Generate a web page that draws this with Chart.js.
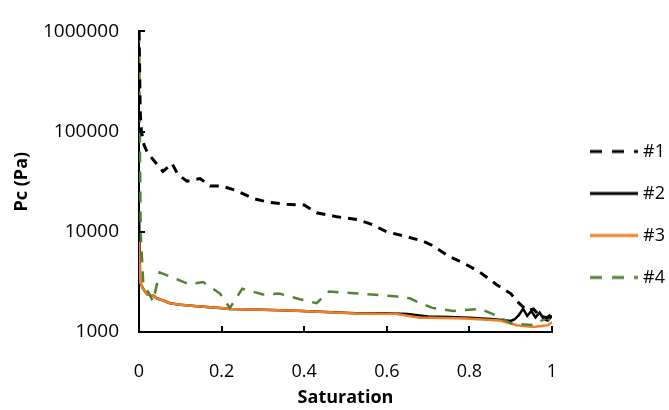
<!DOCTYPE html>
<html>
<head>
<meta charset="utf-8">
<script src="https://cdn.jsdelivr.net/npm/chart.js@4"></script>
<style>
  html, body { margin: 0; padding: 0; background: #fff; }
  #wrap { width: 669px; height: 410px; }
</style>
</head>
<body>
<div id="wrap"><canvas id="pcChart" width="669" height="410"></canvas></div>
<script>
// Series data (saturation vs capillary pressure)
const labels = ['#1', '#2', '#3', '#4'];

const sat1 = [0, 0.001, 0.002, 0.003, 0.005, 0.008, 0.012, 0.02, 0.034, 0.058, 0.08, 0.094, 0.116, 0.148, 0.172, 0.2, 0.237, 0.276, 0.317, 0.358, 0.4, 0.43, 0.48, 0.53, 0.56, 0.6, 0.65, 0.69, 0.71, 0.75, 0.785, 0.826, 0.867, 0.9, 0.92, 0.94, 0.955, 0.97, 0.988, 1.0];
const pc1 = [1000000, 600000, 300000, 160000, 110000, 90000, 74000, 62000, 52600, 40000, 48000, 37400, 32000, 34000, 28600, 28600, 25700, 21500, 19600, 18800, 18500, 15500, 14100, 13200, 12000, 10000, 8900, 8000, 7300, 5700, 4900, 3940, 2950, 2420, 1940, 1630, 1700, 1450, 1390, 1520];

// #2 sits under #3 for most of the range, only showing near the end
const sat2 = [0, 0.003, 0.01, 0.02, 0.035, 0.043, 0.06, 0.075, 0.1, 0.14, 0.196, 0.22, 0.3, 0.38, 0.54, 0.6, 0.65, 0.7, 0.75, 0.8, 0.85, 0.88, 0.9, 0.91, 0.92, 0.93, 0.94, 0.95, 0.96, 0.97, 0.98, 0.99, 1.0];
const pc2 = [15000, 3100, 2700, 2370, 2300, 2170, 2050, 1940, 1870, 1810, 1740, 1700, 1670, 1630, 1530, 1540, 1510, 1430, 1410, 1390, 1350, 1320, 1290, 1340, 1480, 1700, 1450, 1620, 1400, 1560, 1350, 1300, 1450];

const sat3 = [0, 0.003, 0.01, 0.02, 0.035, 0.043, 0.06, 0.075, 0.1, 0.14, 0.196, 0.22, 0.3, 0.38, 0.54, 0.62, 0.68, 0.71, 0.79, 0.874, 0.915, 0.955, 0.99, 1.0];
const pc3 = [8000, 3100, 2700, 2370, 2300, 2170, 2050, 1940, 1870, 1810, 1740, 1700, 1670, 1630, 1520, 1520, 1390, 1390, 1360, 1300, 1170, 1120, 1170, 1250];

const sat4 = [0, 0.001, 0.002, 0.004, 0.01, 0.02, 0.034, 0.05, 0.08, 0.12, 0.155, 0.196, 0.22, 0.25, 0.3, 0.34, 0.39, 0.43, 0.46, 0.53, 0.625, 0.656, 0.67, 0.71, 0.76, 0.826, 0.867, 0.9, 0.955, 0.988, 1.0];
const pc4 = [1000000, 500000, 100000, 10000, 3200, 2600, 2030, 3930, 3520, 3000, 3150, 2420, 1740, 2700, 2370, 2420, 2120, 1940, 2530, 2420, 2260, 2170, 2030, 1740, 1620, 1700, 1450, 1220, 1170, 1390, 1250];

const xTicks = [0, 0.2, 0.4, 0.6, 0.8, 1];
const yTicks = [1000, 10000, 100000, 1000000];

function toPoints(xs, ys) {
  return xs.map((x, i) => ({ x: x, y: ys[i] }));
}

// small canvas used as the legend symbol so dashes show up
function legendLine(color, width, dash) {
  const c = document.createElement('canvas');
  c.width = 66;
  c.height = 6;
  const g = c.getContext('2d');
  g.strokeStyle = color;
  g.lineWidth = width;
  g.setLineDash(dash);
  g.beginPath();
  g.moveTo(18, 3);
  g.lineTo(66, 3);
  g.stroke();
  return c;
}

// Excel-style short tick marks pointing into the plot
const innerTicks = {
  id: 'innerTicks',
  afterDatasetsDraw(chart) {
    const ctx = chart.ctx;
    const xs = chart.scales.x, ys = chart.scales.y;
    ctx.save();
    ctx.strokeStyle = '#000';
    ctx.lineWidth = 2;
    ctx.beginPath();
    xTicks.forEach(v => {
      const px = Math.round(xs.getPixelForValue(v));
      ctx.moveTo(px, ys.bottom);
      ctx.lineTo(px, ys.bottom - 6);
    });
    yTicks.forEach(v => {
      const py = Math.round(ys.getPixelForValue(v));
      ctx.moveTo(xs.left, py);
      ctx.lineTo(xs.left + 6, py);
    });
    ctx.stroke();
    ctx.restore();
  }
};

const font = "'Open Sans', 'Liberation Sans', sans-serif";

new Chart(document.getElementById('pcChart'), {
  type: 'line',
  data: {
    datasets: [
      { label: labels[0], data: toPoints(sat1, pc1), borderColor: '#000000', backgroundColor: '#000000', borderWidth: 3, borderDash: [9, 7], order: 0 },
      { label: labels[1], data: toPoints(sat2, pc2), borderColor: '#000000', backgroundColor: '#000000', borderWidth: 2.5, order: 3 },
      { label: labels[2], data: toPoints(sat3, pc3), borderColor: '#F27E26', backgroundColor: '#F27E26', borderWidth: 2.5, order: 2 },
      { label: labels[3], data: toPoints(sat4, pc4), borderColor: '#548235', backgroundColor: '#548235', borderWidth: 2.5, borderDash: [11, 9], order: 1 }
    ]
  },
  options: {
    responsive: false,
    animation: false,
    parsing: { xAxisKey: 'x', yAxisKey: 'y' },
    elements: { point: { radius: 0 }, line: { tension: 0 } },
    layout: { padding: { top: 19, right: 0, bottom: 0, left: 0 } },
    scales: {
      x: {
        type: 'linear',
        min: 0,
        max: 1,
        afterBuildTicks: s => { s.ticks = xTicks.map(v => ({ value: v })); },
        afterFit: s => { s.height = 78; },
        grid: { display: false, drawTicks: false },
        border: { color: '#000', width: 2 },
        ticks: {
          color: '#000',
          font: { family: font, size: 18 },
          padding: 29,
          maxRotation: 0,
          callback: v => String(v)
        },
        title: {
          display: true,
          text: 'Saturation',
          color: '#000',
          font: { family: font, size: 18, weight: 'bold' },
          padding: { top: 0, bottom: 1 }
        }
      },
      y: {
        type: 'logarithmic',
        min: 1000,
        max: 1000000,
        afterBuildTicks: s => { s.ticks = yTicks.map(v => ({ value: v })); },
        afterFit: s => { s.width = 139; },
        grid: { display: false, drawTicks: false },
        border: { color: '#000', width: 2 },
        ticks: {
          color: '#000',
          font: { family: font, size: 19 },
          padding: 20,
          callback: v => String(v)
        },
        title: {
          display: true,
          text: 'Pc (Pa)',
          color: '#000',
          font: { family: font, size: 18, weight: 'bold' },
          padding: { top: 11, bottom: 0 }
        }
      }
    },
    plugins: {
      tooltip: { enabled: false },
      legend: {
        position: 'right',
        maxWidth: 117,
        labels: {
          color: '#000',
          font: { family: font, size: 18 },
          usePointStyle: true,
          pointStyleWidth: 58,
          padding: 24,
          generateLabels: chart => {
            const items = Chart.defaults.plugins.legend.labels.generateLabels(chart);
            items.sort((a, b) => a.datasetIndex - b.datasetIndex);
            items.forEach(item => {
              const ds = chart.data.datasets[item.datasetIndex];
              const dash = ds.borderDash ? [12, 10] : [];
              item.pointStyle = legendLine(ds.borderColor, 3, dash);
            });
            return items;
          }
        }
      }
    }
  },
  plugins: [innerTicks]
});
</script>
</body>
</html>
